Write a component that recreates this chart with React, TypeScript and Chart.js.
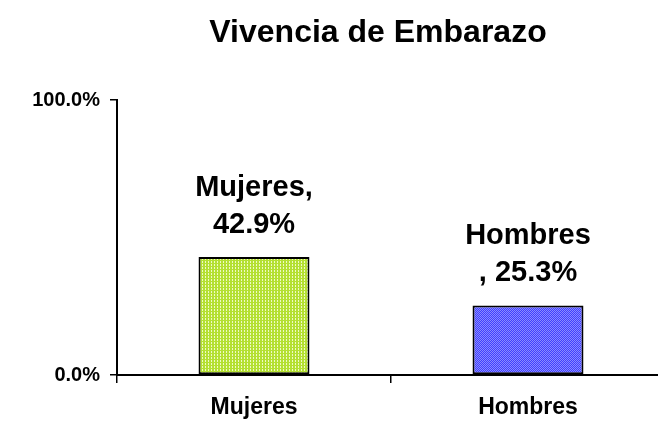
import React, { useEffect, useRef } from "react";
import { Chart, registerables } from "chart.js";

Chart.register(...registerables);

const TITLE = "Vivencia de Embarazo";
const categories = ["Mujeres", "Hombres"];
const values = [42.9, 25.3];
const yTickValues = [0, 100];
const dataLabelLines = [
  ["Mujeres,", "42.9%"],
  ["Hombres", ", 25.3%"],
];

const FONT = "'Liberation Sans', Arial, sans-serif";

function makePattern(base: string, light: string, cells: number[][], size: number) {
  const c = document.createElement("canvas");
  c.width = size;
  c.height = size;
  const g = c.getContext("2d")!;
  g.fillStyle = base;
  g.fillRect(0, 0, size, size);
  g.fillStyle = light;
  for (const [x, y] of cells) g.fillRect(x, y, 1, 1);
  return g.createPattern(c, "repeat")!;
}

const titlePlugin = {
  id: "fixedTitle",
  afterDraw(chart: any) {
    const ctx = chart.ctx;
    ctx.save();
    ctx.font = `bold 32px ${FONT}`;
    ctx.fillStyle = "#000";
    ctx.textAlign = "center";
    ctx.textBaseline = "middle";
    ctx.fillText(TITLE, 378, 33);
    ctx.restore();
  },
};

const dataLabelPlugin = {
  id: "barLabels",
  afterDatasetsDraw(chart: any) {
    const ctx = chart.ctx;
    const meta = chart.getDatasetMeta(0);
    ctx.save();
    ctx.font = `bold 29px ${FONT}`;
    ctx.fillStyle = "#000";
    ctx.textAlign = "center";
    ctx.textBaseline = "alphabetic";
    meta.data.forEach((bar: any, i: number) => {
      const lines = dataLabelLines[i];
      const n = lines.length;
      lines.forEach((line, j) => {
        ctx.fillText(line, bar.x, bar.y - 24 - (n - 1 - j) * 37);
      });
    });
    ctx.restore();
  },
};

export default function App() {
  const ref = useRef<HTMLCanvasElement>(null);
  useEffect(() => {
    document.body.style.margin = "0";
    document.body.style.overflow = "hidden";
    const canvas = ref.current!;
    const ctx = canvas.getContext("2d")!;
    const green = makePattern("#b4e032", "#eefac4", [[1, 0], [1, 1]], 3);
    const blue = makePattern("#4040ff", "#8c8cff", [[0, 0], [1, 1]], 2);
    const chart = new Chart(ctx, {
      type: "bar",
      data: {
        labels: categories,
        datasets: [
          {
            data: values,
            backgroundColor: [green, blue],
            borderColor: "#000",
            borderWidth: 2,
            borderSkipped: false,
            categoryPercentage: 1,
            barPercentage: 0.405,
          },
        ],
      },
      options: {
        responsive: false,
        animation: false,
        devicePixelRatio: 1,
        layout: { padding: { top: 100, left: 0, right: 5, bottom: 0 } },
        plugins: { legend: { display: false }, title: { display: false }, tooltip: { enabled: false } },
        scales: {
          x: {
            offset: true,
            grid: { display: true, drawOnChartArea: false, drawTicks: true, tickLength: 8, color: "#000", lineWidth: 1.5 },
            border: { display: true, color: "#000", width: 2 },
            ticks: { color: "#000", font: { family: FONT, size: 23, weight: "bold" }, padding: 11, maxRotation: 0 },
            afterFit: (s: any) => { s.height = 47; },
          },
          y: {
            min: 0,
            max: 100,
            afterBuildTicks: (s: any) => { s.ticks = yTickValues.map((v) => ({ value: v })); },
            grid: { display: true, drawOnChartArea: false, drawTicks: true, tickLength: 7, color: "#000", lineWidth: 1.5 },
            border: { display: true, color: "#000", width: 2 },
            ticks: {
              color: "#000",
              font: { family: FONT, size: 20, weight: "bold" },
              padding: 10,
              callback: (v: any) => Number(v).toFixed(1) + "%",
            },
            afterFit: (s: any) => { s.width = 117; },
          },
        },
      },
      plugins: [titlePlugin, dataLabelPlugin],
    });
    return () => chart.destroy();
  }, []);
  return (
    <canvas
      ref={ref}
      width={670}
      height={422}
      style={{ position: "absolute", left: 0, top: 0, width: 670, height: 422 }}
    />
  );
}
